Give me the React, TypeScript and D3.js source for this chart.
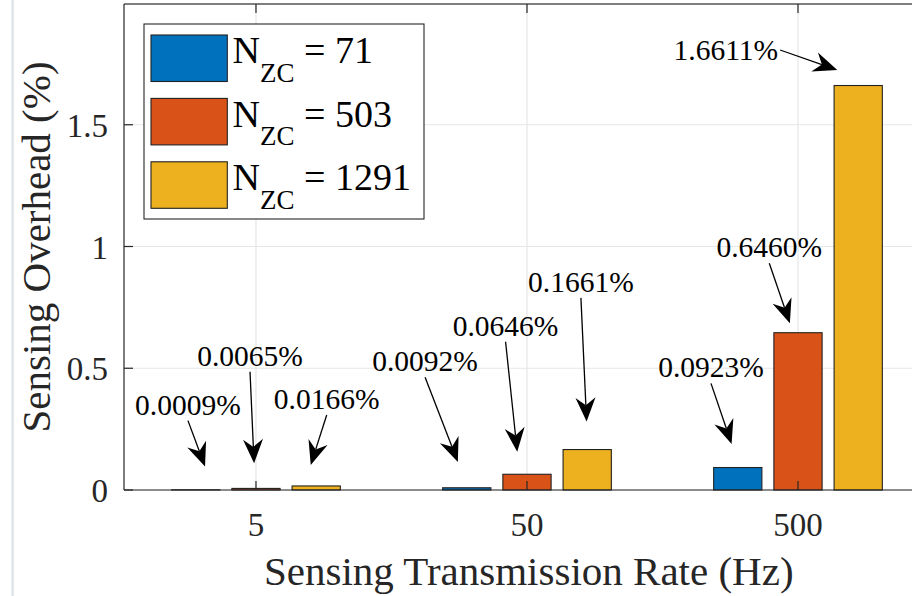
import * as d3 from "d3";

// categories (x) and series values (%)
const rates = ["5", "50", "500"];
const seriesNames = ["71", "503", "1291"];
const seriesColors = ["#0072BD", "#D95319", "#EDB120"];
const overhead71 = [0.0009, 0.0092, 0.0923];
const overhead503 = [0.0065, 0.0646, 0.646];
const overhead1291 = [0.0166, 0.1661, 1.6611];
const yTicks = [0, 0.5, 1, 1.5];

// text arrows: label, tail (x in category units, y in %), head
const noteLabels = ["0.0009%", "0.0065%", "0.0166%", "0.0092%", "0.0646%", "0.1661%", "0.0923%", "0.6460%", "1.6611%"];
const noteTails = [[0.749, 0.285], [0.978, 0.486], [1.261, 0.308], [1.624, 0.463], [1.921, 0.609], [2.199, 0.789], [2.679, 0.438], [2.894, 0.931], [2.934, 1.807]];
const noteHeads = [[0.812, 0.096], [0.993, 0.11], [1.202, 0.103], [1.745, 0.115], [1.964, 0.157], [2.22, 0.281], [2.755, 0.189], [2.97, 0.685], [3.145, 1.725]];

const W = 912;
const H = 596;
const FONT = "'Liberation Serif', 'Times New Roman', serif";
const AX = "#262626";

const x = d3.scaleLinear().domain([0.513, 3.5]).range([124, 933.5]);
const y = d3.scaleLinear().domain([0, 2]).range([490, 3]);

const series = [overhead71, overhead503, overhead1291];
const groupOffset = 0.2222;
const barW = 0.178;

// matlab-ish 'vback2' head
function arrowHead(tx, ty, hx, hy) {
  const dx = hx - tx;
  const dy = hy - ty;
  const len = Math.hypot(dx, dy);
  const ux = dx / len;
  const uy = dy / len;
  const nx = -uy;
  const ny = ux;
  const L = 24;
  const hw = 10;
  const bx = hx - ux * L;
  const by = hy - uy * L;
  const notchX = hx - ux * L * 0.68;
  const notchY = hy - uy * L * 0.68;
  const p = d3.path();
  p.moveTo(hx, hy);
  p.lineTo(bx + nx * hw, by + ny * hw);
  p.lineTo(notchX, notchY);
  p.lineTo(bx - nx * hw, by - ny * hw);
  p.closePath();
  return { d: p.toString(), sx: notchX, sy: notchY };
}

export default function App() {
  const x0 = x.range()[0];
  const yBottom = y(0);
  const yTop = 4;

  return (
    <svg
      width={W}
      height={H}
      style={{ position: "absolute", left: 0, top: 0, background: "#fff" }}
      fontFamily={FONT}
    >
      <rect x={0} y={0} width={W} height={H} fill="#fff" />
      <rect x={11.5} y={0} width={2.2} height={H} fill="#dde2e6" />

      {/* grid */}
      <g stroke="#e6e6e6" strokeWidth={1.2}>
        {rates.map((r, i) => (
          <line key={r} x1={x(i + 1)} x2={x(i + 1)} y1={yTop} y2={yBottom} />
        ))}
        {yTicks.map((t) => (
          <line key={t} x1={x0} x2={W} y1={y(t)} y2={y(t)} />
        ))}
      </g>

      {/* bars */}
      {series.map((vals, s) => (
        <g key={s} fill={seriesColors[s]} stroke="#222" strokeWidth={1.1}>
          {vals.map((v, i) => {
            const cx = i + 1 + (s - 1) * groupOffset;
            const x1 = x(cx - barW / 2);
            const x2 = x(cx + barW / 2);
            return (
              <rect key={i} x={x1} y={y(v)} width={x2 - x1} height={Math.max(0, yBottom - y(v))} />
            );
          })}
        </g>
      ))}

      {/* axes */}
      <g stroke={AX} strokeWidth={1.2} fill="none">
        <line x1={x0} x2={W} y1={yBottom} y2={yBottom} />
        <line x1={x0} x2={W} y1={yTop} y2={yTop} stroke="#555" strokeWidth={1.5} />
        <line x1={x0} x2={x0} y1={yTop} y2={yBottom} />
        {rates.map((r, i) => (
          <g key={r}>
            <line x1={x(i + 1)} x2={x(i + 1)} y1={yBottom} y2={yBottom - 9} />
            <line x1={x(i + 1)} x2={x(i + 1)} y1={yTop} y2={yTop + 9} />
          </g>
        ))}
        {yTicks.map((t) => (
          <line key={t} x1={x0} x2={x0 + 9} y1={y(t)} y2={y(t)} />
        ))}
      </g>

      {/* tick labels */}
      <g fontSize={33} fill={AX}>
        {rates.map((r, i) => (
          <text key={r} x={x(i + 1)} y={536} textAnchor="middle">
            {r}
          </text>
        ))}
        {yTicks.map((t) => (
          <text key={t} x={108} y={y(t) + 12} textAnchor="end">
            {String(t)}
          </text>
        ))}
      </g>

      {/* axis labels */}
      <text x={(124 + 933.5) / 2} y={585} textAnchor="middle" fontSize={41} fill={AX}>
        Sensing Transmission Rate (Hz)
      </text>
      <text
        transform={`translate(50, ${(yTop + yBottom) / 2}) rotate(-90)`}
        textAnchor="middle"
        fontSize={41}
        fill={AX}
      >
        Sensing Overhead (%)
      </text>

      {/* annotations */}
      {noteLabels.map((label, i) => {
        const tx = x(noteTails[i][0]);
        const ty = y(noteTails[i][1]);
        const hx = x(noteHeads[i][0]);
        const hy = y(noteHeads[i][1]);
        const head = arrowHead(tx, ty, hx, hy);
        const side = i === noteLabels.length - 1;
        return (
          <g key={label}>
            <line x1={tx} y1={ty} x2={head.sx} y2={head.sy} stroke="#000" strokeWidth={1.3} />
            <path d={head.d} fill="#000" />
            <text
              x={side ? tx - 2 : tx}
              y={side ? ty + 10.5 : ty - 6}
              textAnchor={side ? "end" : "middle"}
              fontSize={29.5}
              fill="#000"
            >
              {label}
            </text>
          </g>
        );
      })}

      {/* legend */}
      <g>
        <rect x={144} y={24} width={280} height={195} fill="#fff" stroke={AX} strokeWidth={1.1} />
        {seriesNames.map((n, i) => {
          const base = 63.3 + i * 63.4;
          return (
            <g key={n}>
              <rect x={151} y={base - 28.3} width={76.3} height={46.5} fill={seriesColors[i]} stroke="#222" strokeWidth={1.1} />
              <text x={232.5} y={base} fontSize={38} fill="#000">
                N
                <tspan fontSize={27} dy={18.5}>ZC</tspan>
                <tspan dy={-18.5}>{` = ${n}`}</tspan>
              </text>
            </g>
          );
        })}
      </g>
    </svg>
  );
}
